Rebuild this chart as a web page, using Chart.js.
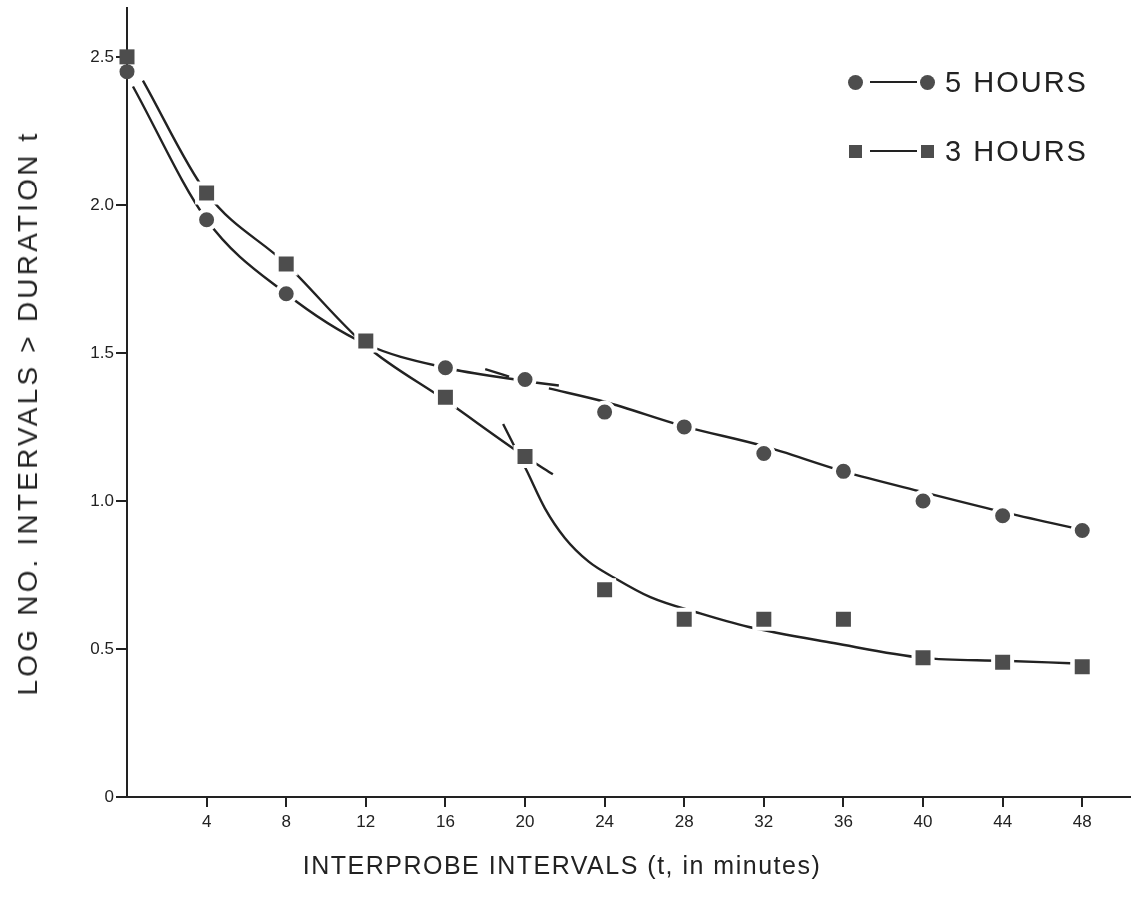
<!DOCTYPE html>
<html>
<head>
<meta charset="utf-8">
<title>Log no. intervals > duration t</title>
<script src="https://cdn.jsdelivr.net/npm/chart.js@4/dist/chart.umd.min.js"></script>
<style>
  html, body { margin: 0; padding: 0; background: #fff; overflow: hidden; }
  #wrap { position: relative; width: 1135px; height: 914px; background: #fff; }
  #wrap canvas { position: absolute; left: 0; top: 0; }
  .txt { position: absolute; color: #222; font-family: "Liberation Sans", Arial, sans-serif; white-space: nowrap; }
  #ytitle { left: 28px; top: 413px; font-size: 28px; letter-spacing: 3.2px; transform: translate(-50%, -50%) rotate(-90deg); }
  #xtitle { left: 562px; top: 865px; font-size: 25px; letter-spacing: 1.5px; transform: translate(-50%, -50%); }
  .legend-row { position: absolute; left: 848px; height: 30px; display: flex; align-items: center; }
  .legend-row .mk { width: 15px; height: 15px; background: #4d4d4d; }
  .legend-row .mk.dot { border-radius: 50%; }
  .legend-row .mk.sq { width: 13px; height: 13px; margin: 0 1px; }
  .legend-row .ln { width: 47px; height: 2px; background: #222; margin: 0 3px 0 7px; }
  .legend-row .lb { margin-left: 10px; font-size: 29px; letter-spacing: 2px; color: #222; font-family: "Liberation Sans", Arial, sans-serif; }
</style>
</head>
<body>
<div id="wrap">
  <canvas id="chart"></canvas>
  <div class="txt" id="ytitle">LOG NO. INTERVALS &gt; DURATION t</div>
  <div class="txt" id="xtitle">INTERPROBE INTERVALS (t, in minutes)</div>
  <div class="legend-row" style="top:67px"><span class="mk dot"></span><span class="ln"></span><span class="mk dot"></span><span class="lb">5 HOURS</span></div>
  <div class="legend-row" style="top:136px"><span class="mk sq"></span><span class="ln"></span><span class="mk sq"></span><span class="lb">3 HOURS</span></div>
</div>
<script>
// measured points
const minutes = [0, 4, 8, 12, 16, 20, 24, 28, 32, 36, 40, 44, 48];
const fiveHours = [2.45, 1.95, 1.70, 1.53, 1.45, 1.41, 1.30, 1.25, 1.16, 1.10, 1.00, 0.95, 0.90];
const threeHours = [2.50, 2.04, 1.80, 1.54, 1.35, 1.15, 0.70, 0.60, 0.60, 0.60, 0.47, 0.455, 0.44];

// axis ticks
const xTicks = [4, 8, 12, 16, 20, 24, 28, 32, 36, 40, 44, 48];
const yTicks = [0, 0.5, 1.0, 1.5, 2.0, 2.5];

// hand drawn curves
const fiveEarlyX = [0.3, 4, 8, 12, 16, 20];
const fiveEarlyY = [2.40, 1.95, 1.70, 1.53, 1.45, 1.405];
const fiveDashX = [18.0, 19.2];
const fiveDashY = [1.445, 1.42];
const fiveStubX = [20.5, 21.7];
const fiveStubY = [1.40, 1.39];
const fiveLateX = [21.2, 24, 28, 32, 36, 40, 44, 47.8];
const fiveLateY = [1.38, 1.335, 1.252, 1.185, 1.10, 1.03, 0.963, 0.905];

const threeEarlyX = [0.8, 4, 8, 12, 16, 20, 21.4];
const threeEarlyY = [2.42, 2.04, 1.80, 1.525, 1.34, 1.15, 1.09];
const threeLateX = [18.9, 20.1, 21.0, 22.0, 23.2, 24.5, 26.3, 28.8, 31.2, 35.5, 40, 44, 47.4];
const threeLateY = [1.26, 1.10, 0.975, 0.875, 0.795, 0.74, 0.675, 0.62, 0.575, 0.52, 0.47, 0.46, 0.452];

const FONT = "'Liberation Sans', Arial, sans-serif";
const INK = "#222";
const MARK = "#4d4d4d";

function pts(xs, ys) {
  return xs.map((x, i) => ({ x: x, y: ys[i] }));
}

function curve(xs, ys) {
  return {
    data: pts(xs, ys),
    showLine: true,
    borderColor: INK,
    borderWidth: 2.4,
    pointRadius: 0,
    cubicInterpolationMode: "monotone",
    order: 2,
  };
}

// white ring round each marker makes the line gaps, except on the y axis
const ring = (c) => (c.raw && c.raw.x === 0 ? 0 : 4);

function markers(ys, style, radius) {
  return {
    data: pts(minutes, ys),
    showLine: false,
    pointStyle: style,
    pointBackgroundColor: MARK,
    pointBorderColor: "#fff",
    pointBorderWidth: ring,
    pointRadius: radius,
    clip: false,
    order: 0,
  };
}

// rect side = radius * sqrt(2)
const squareRadius = (c) => (15 + ring(c)) / Math.SQRT2;
const circleRadius = (c) => 7.5 + ring(c) / 2;

// keep the scale boxes at fixed sizes, no extra label padding
function pinBox(size, vertical) {
  return (s) => {
    if (vertical) s.width = size; else s.height = size;
    s.paddingTop = 0; s.paddingBottom = 0; s.paddingLeft = 0; s.paddingRight = 0;
  };
}

const chart = new Chart(document.getElementById("chart"), {
  type: "scatter",
  data: {
    datasets: [
      markers(threeHours, "rect", squareRadius),
      markers(fiveHours, "circle", circleRadius),
      curve(fiveEarlyX, fiveEarlyY),
      curve(fiveDashX, fiveDashY),
      curve(fiveStubX, fiveStubY),
      curve(fiveLateX, fiveLateY),
      curve(threeEarlyX, threeEarlyY),
      curve(threeLateX, threeLateY),
    ],
  },
  options: {
    responsive: true,
    maintainAspectRatio: false,
    animation: false,
    events: [],
    layout: { autoPadding: false, padding: { top: 8, right: 5, left: 0, bottom: 0 } },
    plugins: { legend: { display: false }, tooltip: { enabled: false } },
    scales: {
      x: {
        type: "linear",
        min: 0,
        max: 50.4,
        afterBuildTicks: (s) => { s.ticks = xTicks.map((v) => ({ value: v })); },
        afterFit: pinBox(117, false),
        grid: { drawOnChartArea: false, drawTicks: true, tickLength: 10, color: INK, lineWidth: 2 },
        border: { display: true, color: INK, width: 2 },
        ticks: { color: INK, font: { family: FONT, size: 17 }, padding: 5, maxRotation: 0, autoSkip: false },
      },
      y: {
        type: "linear",
        min: 0,
        max: 2.665,
        afterBuildTicks: (s) => { s.ticks = yTicks.map((v) => ({ value: v })); },
        afterFit: pinBox(127, true),
        grid: { drawOnChartArea: false, drawTicks: true, tickLength: 11, color: INK, lineWidth: 2 },
        border: { display: true, color: INK, width: 2 },
        ticks: {
          color: INK,
          font: { family: FONT, size: 17 },
          padding: 2,
          callback: (v) => (v === 0 ? "0" : v.toFixed(1)),
        },
      },
    },
  },
});
</script>
</body>
</html>
